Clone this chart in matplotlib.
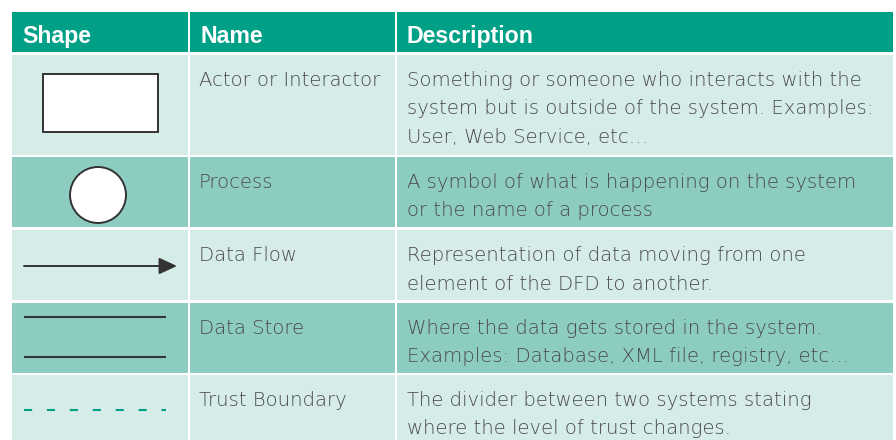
import matplotlib
matplotlib.use("Agg")
import matplotlib.pyplot as plt
from matplotlib.patches import Rectangle, Circle, FancyArrowPatch

# ---- data ----
headers = ["Shape", "Name", "Description"]
shapes = ["rect", "circle", "arrow", "store", "boundary"]
names = ["Actor or Interactor", "Process", "Data Flow", "Data Store", "Trust Boundary"]
descriptions = [
    ["Something or someone who interacts with the",
     "system but is outside of the system. Examples:",
     "User, Web Service, etc\u2026"],
    ["A symbol of what is happening on the system",
     "or the name of a process"],
    ["Representation of data moving from one",
     "element of the DFD to another."],
    ["Where the data gets stored in the system.",
     "Examples: Database, XML file, registry, etc\u2026"],
    ["The divider between two systems stating",
     "where the level of trust changes."],
]

# ---- layout (pixels) ----
W, H = 896, 440
col_x = [12, 190, 397]
col_r = [188, 395, 893]
header_top, header_bot = 12, 52
row_top = [55, 157, 230, 303, 375]
row_bot = [155, 227, 300, 373, 445]

HEAD = "#00A086"
LIGHT = "#D6ECE8"
DARK = "#8DCDC1"
TXT = "#4a4a4a"
INK = "#333333"

fig = plt.figure(figsize=(W / 100, H / 100), dpi=100)
ax = fig.add_axes([0, 0, 1, 1])
ax.set_xlim(0, W)
ax.set_ylim(H, 0)
ax.axis("off")

body_font = dict(family=["DejaVu Sans"], fontsize=14.1, color=TXT, weight="light")
head_font = dict(family=["Liberation Sans", "DejaVu Sans"], fontsize=16.7, color="white", weight="bold")

# header
for c in range(3):
    ax.add_patch(Rectangle((col_x[c], header_top), col_r[c] - col_x[c], header_bot - header_top,
                           facecolor=HEAD, edgecolor="none"))
    ax.text(col_x[c] + 10, 43, headers[c], va="baseline", ha="left", **head_font)

line_step = 28.5
for r in range(len(names)):
    fc = LIGHT if r % 2 == 0 else DARK
    for c in range(3):
        ax.add_patch(Rectangle((col_x[c], row_top[r]), col_r[c] - col_x[c], row_bot[r] - row_top[r],
                               facecolor=fc, edgecolor="none"))
    base = row_top[r] + 31
    ax.text(col_x[1] + 9, base, names[r], va="baseline", ha="left", **body_font)
    for i, line in enumerate(descriptions[r]):
        ax.text(col_x[2] + 10, base + i * line_step, line, va="baseline", ha="left", **body_font)

    # shapes
    kind = shapes[r]
    if kind == "rect":
        ax.add_patch(Rectangle((43, 74), 115, 58, facecolor="white", edgecolor=INK, lw=1.4))
    elif kind == "circle":
        ax.add_patch(Circle((98, 195), 28, facecolor="white", edgecolor=INK, lw=1.4))
    elif kind == "arrow":
        ax.add_patch(FancyArrowPatch((24, 266), (177, 266), arrowstyle="-|>,head_length=0.78,head_width=0.36",
                                     mutation_scale=14, color=INK, lw=1.4, shrinkA=0, shrinkB=0))
    elif kind == "store":
        ax.plot([24, 166], [317, 317], color=INK, lw=1.5, solid_capstyle="butt")
        ax.plot([24, 166], [357, 357], color=INK, lw=1.5, solid_capstyle="butt")
    elif kind == "boundary":
        ax.plot([24, 166], [410, 410], color=HEAD, lw=1.5, dashes=(3.9, 7.1), solid_capstyle="butt")

fig.savefig("out.png", dpi=100)
